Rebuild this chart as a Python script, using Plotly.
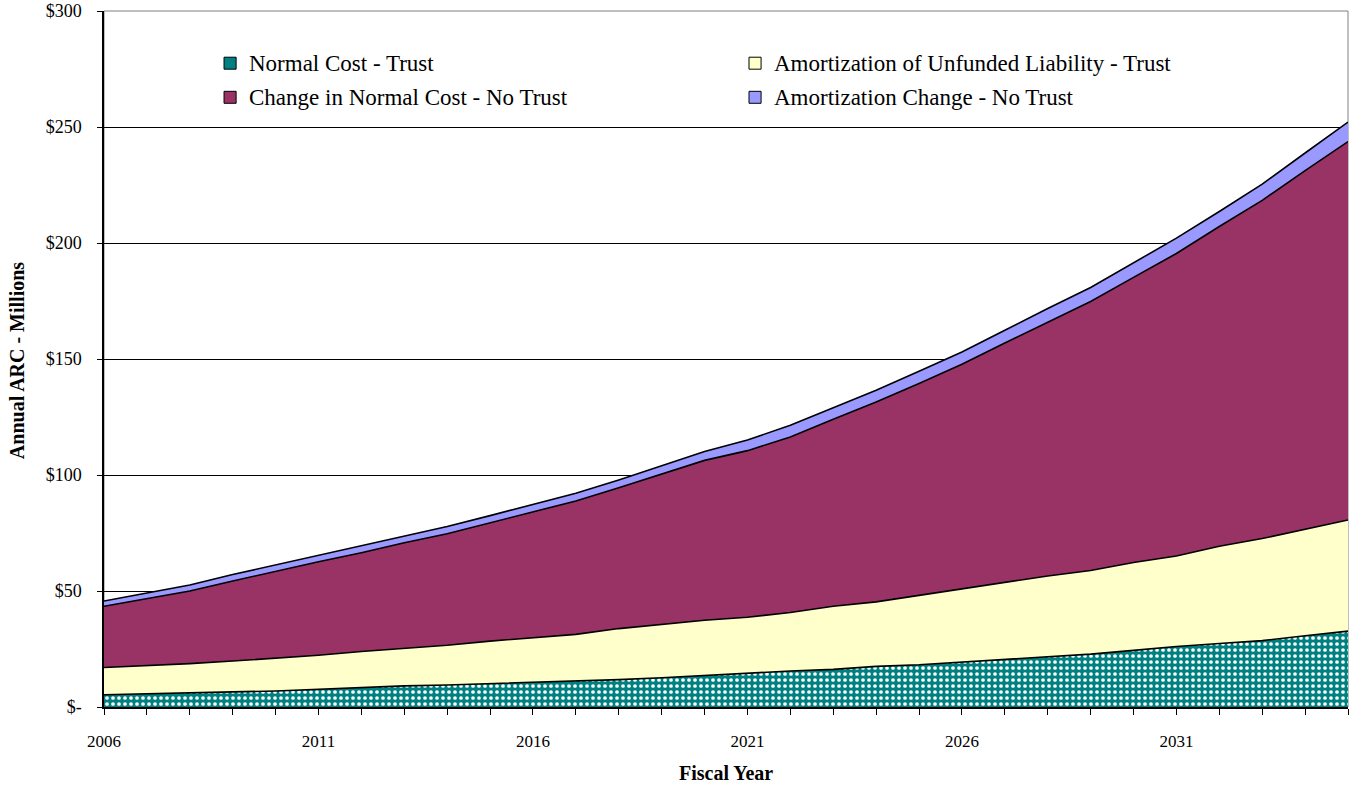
import plotly.graph_objects as go

years = list(range(2006, 2036))

normal_cost_trust = [5.3, 5.6, 6.0, 6.5, 6.9, 7.6, 8.5, 9.1, 9.5, 10.0,
                     10.5, 11.2, 11.8, 12.6, 13.6, 14.7, 15.5, 16.2, 17.5, 18.2,
                     19.4, 20.5, 21.6, 22.8, 24.4, 26.1, 27.4, 28.6, 30.7, 32.7]
amort_trust = [11.7, 12.1, 12.7, 13.3, 14.1, 14.7, 15.4, 16.2, 17.1, 18.4,
               19.2, 20.1, 22.0, 23.0, 23.8, 24.0, 25.2, 27.2, 27.8, 29.9,
               31.6, 33.4, 34.9, 36.0, 37.9, 39.0, 41.9, 44.0, 46.0, 47.9]
change_normal_no_trust = [26.4, 29.0, 31.3, 34.5, 37.6, 40.3, 42.6, 45.5, 48.1, 50.9,
                          54.3, 57.5, 60.7, 64.7, 68.9, 71.8, 75.7, 80.6, 86.2, 91.3,
                          96.7, 103.0, 109.5, 116.0, 122.9, 130.4, 137.8, 145.8, 154.5, 163.1]
amort_change_no_trust = [2.3, 2.4, 2.6, 2.8, 2.6, 2.7, 2.9, 3.0, 3.1, 3.2,
                         3.2, 3.3, 3.3, 3.5, 3.8, 4.6, 5.0, 5.0, 5.0, 5.3,
                         5.3, 5.5, 5.8, 6.0, 6.2, 6.6, 6.5, 7.0, 7.6, 8.4]

series_names = ["Normal Cost - Trust",
                "Amortization of Unfunded Liability - Trust",
                "Change in Normal Cost - No Trust",
                "Amortization Change - No Trust"]
colors = ["#008080", "#FFFFCC", "#993366", "#9999FF"]

y_tickvals = [0, 50, 100, 150, 200, 250, 300]
y_ticktext = ["$-", "$50", "$100", "$150", "$200", "$250", "$300"]

FONT = "Liberation Serif"

fig = go.Figure()
data = [normal_cost_trust, amort_trust, change_normal_no_trust, amort_change_no_trust]
for i, (name, vals) in enumerate(zip(series_names, data)):
    kw = dict(fillcolor=colors[i])
    if i == 0:
        kw["fillpattern"] = dict(shape=".", bgcolor="#008080", fgcolor="#FFFFFF",
                                 size=6, solidity=0.3, fillmode="replace")
    fig.add_trace(go.Scatter(
        x=years, y=vals, name=name, mode="lines",
        stackgroup="one", line=dict(color="black", width=1.6),
        showlegend=False, hoverinfo="x+y", **kw))

# manual legend (two columns)
leg_items = [(0, 0.0965, 0.925), (1, 0.5185, 0.925),
             (2, 0.0965, 0.876), (3, 0.5185, 0.876)]
for idx, lx, ly in leg_items:
    fig.add_shape(type="rect", xref="paper", yref="paper",
                  x0=lx, x1=lx + 0.0097, y0=ly - 0.0086, y1=ly + 0.0086,
                  fillcolor=colors[idx], line=dict(color="black", width=1))
    fig.add_annotation(xref="paper", yref="paper", x=lx + 0.0185, y=ly,
                       text=series_names[idx], showarrow=False,
                       xanchor="left", yanchor="middle",
                       font=dict(family=FONT, size=23, color="black"))

# axis titles
fig.add_annotation(xref="paper", yref="paper", x=-0.0699, y=0.497,
                   text="<b>Annual ARC - Millions</b>", textangle=-90,
                   showarrow=False, xanchor="center", yanchor="middle",
                   font=dict(family=FONT, size=20, color="black"))
fig.add_annotation(xref="paper", yref="paper", x=0.5, y=-0.0948,
                   text="<b>Fiscal Year</b>",
                   showarrow=False, xanchor="center", yanchor="middle",
                   font=dict(family=FONT, size=20, color="black"))

# plot border (gray)
fig.add_shape(type="rect", xref="paper", yref="paper", x0=0, x1=1, y0=0, y1=1,
              line=dict(color="#808080", width=1), layer="below")

fig.update_layout(
    width=1355, height=788,
    margin=dict(l=104, r=7, t=11, b=81),
    plot_bgcolor="white", paper_bgcolor="white",
    font=dict(family=FONT, size=16, color="black"),
    showlegend=False,
)
fig.update_xaxes(
    range=[2006, 2035], tick0=2006, dtick=5, tickmode="linear",
    ticks="outside", ticklen=6, tickcolor="black", tickwidth=1,
    minor=dict(tick0=2006, dtick=1, ticks="outside", ticklen=6, tickcolor="black", showgrid=False),
    showgrid=False, showline=True, linecolor="black", linewidth=1.5,
    zeroline=False, automargin=False, ticklabelstandoff=12,
    tickfont=dict(family=FONT, size=17),
)
fig.update_yaxes(
    range=[0, 300], tickmode="array", tickvals=y_tickvals, ticktext=y_ticktext,
    ticks="outside", ticklen=5, tickcolor="black",
    showgrid=True, gridcolor="black", gridwidth=1,
    showline=True, linecolor="black", linewidth=1.5, zeroline=False,
    automargin=False, ticklabelstandoff=12,
    tickfont=dict(family=FONT, size=18),
)

fig.write_html("out.html")
